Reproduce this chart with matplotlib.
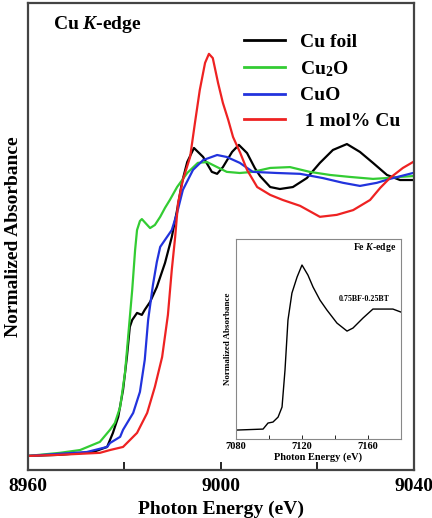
import matplotlib
matplotlib.use("Agg")
import matplotlib.pyplot as plt

plt.rcParams['font.family'] = ['Liberation Serif', 'DejaVu Serif']
plt.rcParams['font.weight'] = 'bold'
plt.rcParams['mathtext.fontset'] = 'custom'
plt.rcParams['mathtext.rm'] = 'Liberation Serif:bold'
plt.rcParams['mathtext.it'] = 'Liberation Serif:bold:italic'
plt.rcParams['mathtext.bf'] = 'Liberation Serif:bold'

# main panel: Cu K-edge XANES
foil_x = [8960.0, 8966.6, 8973.5, 8976.4, 8977.0, 8977.6, 8978.7, 8979.7, 8980.5, 8981.1, 8981.6,
          8982.6, 8983.6, 8984.2, 8985.3, 8986.7, 8988.4, 8989.8, 8990.9, 8991.9, 8993.0,
          8994.4, 8996.3, 8998.1, 8999.2, 9000.4, 9002.3, 9003.7, 9005.4, 9007.0, 9008.1,
          9010.2, 9012.2, 9014.9, 9017.8, 9020.5, 9023.2, 9026.1, 9028.8, 9031.5, 9034.4,
          9037.1, 9039.8]
foil_y = [0.0, 0.004, 0.014, 0.032, 0.057, 0.082, 0.139, 0.235, 0.352, 0.459, 0.484,
          0.509, 0.502, 0.520, 0.548, 0.601, 0.687, 0.779, 0.875, 0.972, 1.046,
          1.096, 1.064, 1.011, 1.004, 1.028, 1.082, 1.107, 1.078, 1.025, 0.996,
          0.957, 0.950, 0.957, 0.989, 1.043, 1.089, 1.110, 1.082, 1.043, 1.000,
          0.982, 0.982]

cu2o_x = [8960.0, 8966.6, 8970.8, 8974.9, 8977.0, 8978.0, 8979.1, 8980.1, 8980.7, 8981.6, 8982.2,
          8982.6, 8983.2, 8983.6, 8984.5, 8985.3, 8986.3, 8987.4, 8988.4, 8989.4, 8990.9,
          8993.0, 8995.2, 8997.1, 8999.2, 9001.2, 9003.9, 9006.6, 9010.2, 9014.3, 9018.4,
          9022.6, 9026.7, 9031.5, 9034.4, 9037.1, 9039.8]
cu2o_y = [0.0, 0.011, 0.021, 0.050, 0.093, 0.117, 0.174, 0.295, 0.413, 0.591, 0.733,
          0.804, 0.836, 0.843, 0.826, 0.811, 0.822, 0.851, 0.883, 0.911, 0.957,
          1.007, 1.043, 1.046, 1.028, 1.011, 1.007, 1.011, 1.025, 1.028, 1.011,
          1.000, 0.993, 0.986, 0.989, 0.993, 0.996]

cuo_x = [8960.0, 8972.2, 8976.4, 8977.0, 8979.1, 8979.7, 8981.8, 8983.2, 8984.2, 8984.9, 8985.9,
         8986.7, 8987.4, 8988.8, 8989.8, 8990.9, 8992.1, 8994.2, 8996.3, 8999.2, 9001.2,
         9003.9, 9006.6, 9011.6, 9016.4, 9021.1, 9025.3, 9028.8, 9032.3, 9035.0, 9039.8]
cuo_y = [0.0, 0.014, 0.032, 0.046, 0.068, 0.093, 0.153, 0.228, 0.342, 0.484, 0.609,
         0.690, 0.744, 0.779, 0.804, 0.865, 0.947, 1.018, 1.053, 1.071, 1.064,
         1.043, 1.011, 1.007, 1.004, 0.989, 0.972, 0.961, 0.972, 0.986, 1.007]

cu1_x = [8960.0, 8966.6, 8974.9, 8977.0, 8979.7, 8982.6, 8984.7, 8986.3, 8987.8, 8989.0, 8989.8,
         8990.5, 8991.1, 8992.1, 8993.6, 8994.6, 8995.6, 8996.7, 8997.5, 8998.3, 8999.4,
         9000.4, 9001.5, 9002.5, 9004.0, 9005.4, 9007.5, 9010.2, 9012.8, 9016.4, 9020.5,
         9024.0, 9027.4, 9030.9, 9033.0, 9035.0, 9037.7, 9039.8]
cu1_y = [0.0, 0.004, 0.011, 0.021, 0.032, 0.082, 0.153, 0.246, 0.352, 0.502, 0.662,
         0.779, 0.900, 0.982, 1.064, 1.185, 1.302, 1.399, 1.431, 1.416, 1.327,
         1.256, 1.196, 1.135, 1.078, 1.018, 0.957, 0.929, 0.911, 0.890, 0.851,
         0.858, 0.875, 0.911, 0.954, 0.989, 1.025, 1.046]

# inset: Fe K-edge of 0.75BF-0.25BT
fe_x = [7080.6, 7096.4, 7099.4, 7102.4, 7105.5, 7107.9, 7109.7, 7111.5, 7113.9, 7117.0, 7120.0,
        7123.6, 7126.7, 7130.9, 7135.1, 7141.2, 7147.3, 7150.9, 7157.0, 7163.0, 7169.1,
        7175.1, 7180.0]
fe_y = [0.0, 0.008, 0.058, 0.066, 0.107, 0.190, 0.496, 0.909, 1.132, 1.264, 1.364,
        1.281, 1.182, 1.074, 0.992, 0.884, 0.818, 0.843, 0.926, 1.0, 1.0,
        1.0, 0.975]

fig = plt.figure(figsize=(4.32, 5.18), dpi=100)
ax = fig.add_axes([0.0648, 0.0927, 0.8935, 0.9015])

ax.plot(foil_x, foil_y, color='black', lw=1.6, label='Cu foil')
ax.plot(cu2o_x, cu2o_y, color='#33cc33', lw=1.6, label='Cu$_2$O')
ax.plot(cuo_x, cuo_y, color='#2233dd', lw=1.6, label='CuO')
ax.plot(cu1_x, cu1_y, color='#ee2222', lw=1.6, label=' 1 mol% Cu')

ax.set_xlim(8960, 9040)
ax.set_ylim(-0.05, 1.612)
ax.set_xticks([8960, 8980, 9000, 9020, 9040])
ax.set_xticklabels(['8960', '', '9000', '', '9040'], fontsize=14, fontweight='bold')
ax.tick_params(axis='x', direction='in', length=6, width=1.2, pad=6)
ax.set_yticks([])
ax.set_xlabel('Photon Energy (eV)', fontsize=14, fontweight='bold', labelpad=4)
ax.set_ylabel('Normalized Absorbance', fontsize=14, fontweight='bold', labelpad=4)
for s in ax.spines.values():
    s.set_color('#444444')
    s.set_linewidth(1.6)

ax.text(0.065, 0.955, 'Cu $K$-edge', transform=ax.transAxes, fontsize=14,
        fontweight='bold', va='center')

leg = ax.legend(loc='upper left', bbox_to_anchor=(0.54, 0.952), frameon=False,
                fontsize=14, handlelength=2.1, handletextpad=0.75, labelspacing=0.42,
                borderaxespad=0)
for t in leg.get_texts():
    t.set_fontweight('bold')
for h in leg.get_lines():
    h.set_linewidth(2.0)

# inset
ins = fig.add_axes([0.5463, 0.1525, 0.3819, 0.3861])
ins.plot(fe_x, fe_y, color='black', lw=1.0)
ins.set_xlim(7080, 7180)
ins.set_ylim(-0.074, 1.579)
ins.set_xticks([7080, 7100, 7120, 7140, 7160, 7180])
ins.set_xticklabels(['7080', '', '7120', '', '7160', ''], fontsize=7.5, fontweight='bold')
ins.tick_params(axis='x', direction='in', length=3, width=0.6, pad=2)
ins.set_yticks([])
ins.set_xlabel('Photon Energy (eV)', fontsize=7.5, fontweight='bold', labelpad=1)
ins.set_ylabel('Normalized Absorbance', fontsize=6.5, fontweight='bold', labelpad=3)
for s in ins.spines.values():
    s.set_color('#888888')
    s.set_linewidth(0.8)
ins.text(0.97, 0.96, 'Fe $K$-edge', transform=ins.transAxes, fontsize=7,
         fontweight='bold', ha='right', va='center')
ins.text(0.78, 0.70, '0.75BF-0.25BT', transform=ins.transAxes, fontsize=5.7,
         fontweight='bold', ha='center', va='center')

fig.savefig('out.png', dpi=100)
